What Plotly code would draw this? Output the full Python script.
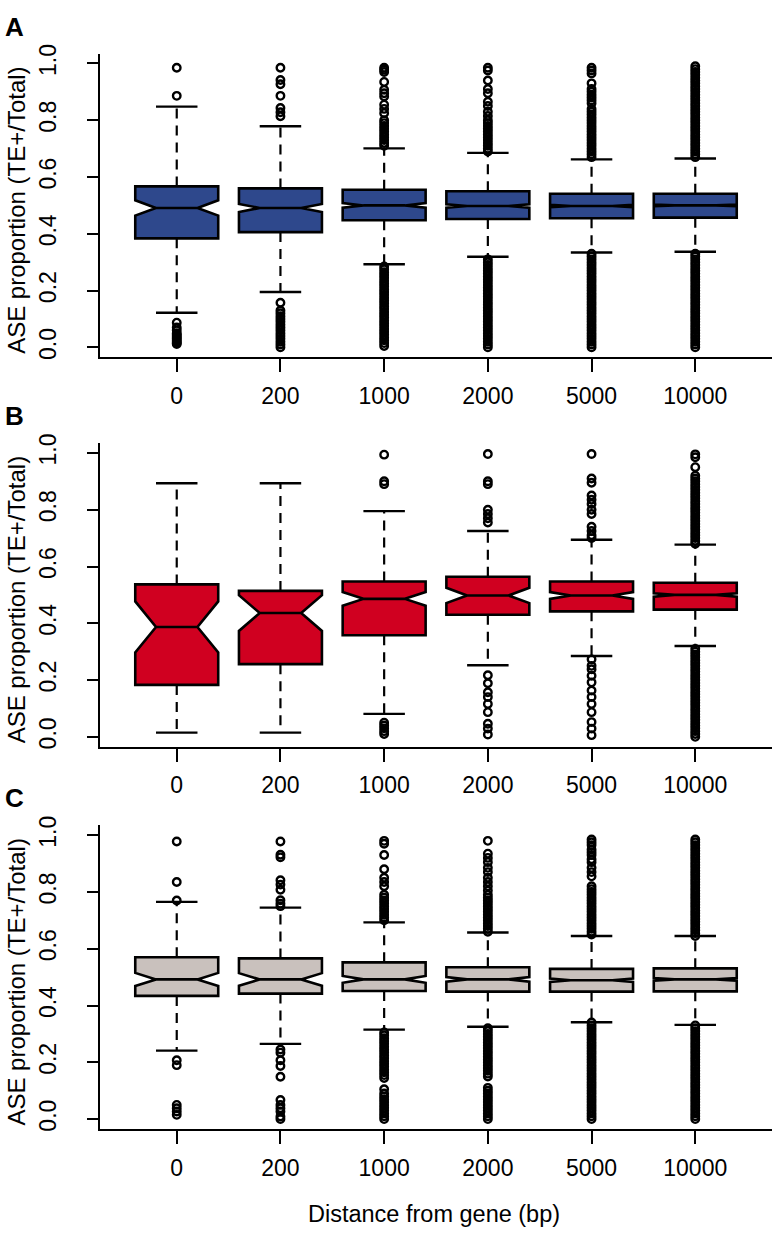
import plotly.graph_objects as go

# ---------------- data ----------------
categories = ["0", "200", "1000", "2000", "5000", "10000"]
positions = [1, 2, 3, 4, 5, 6]

# Panel A
a_q1 = [0.384, 0.406, 0.448, 0.452, 0.455, 0.457]
a_med = [0.491, 0.491, 0.500, 0.498, 0.498, 0.500]
a_q3 = [0.567, 0.560, 0.555, 0.550, 0.541, 0.541]
a_lo = [0.122, 0.195, 0.293, 0.319, 0.334, 0.337]
a_hi = [0.848, 0.779, 0.701, 0.685, 0.662, 0.665]
a_notch = [0.027, 0.014, 0.008, 0.006, 0.004, 0.003]
a_out = [
    [0.985, 0.886, 0.087, 0.07, 0.06, 0.05, 0.045, 0.04, 0.035, 0.03, 0.025, 0.02, 0.015, 0.012],
    [0.985, 0.942, 0.927, 0.886, 0.843, 0.828, 0.814,
     0.157, 0.13, 0.12, 0.11, 0.10, 0.09, 0.08, 0.07, 0.06, 0.05, 0.04, 0.03, 0.02, 0.01, 0.0],
    [0.985, 0.978, 0.97, 0.935, 0.907, 0.895, 0.884, 0.855, 0.84, 0.825,
     0.80, 0.79, 0.78, 0.77, 0.76, 0.75, 0.74, 0.73, 0.72, 0.71,
     0.285, 0.275, 0.265, 0.255, 0.245, 0.235, 0.225, 0.215, 0.205, 0.195, 0.185, 0.175, 0.165,
     0.155, 0.145, 0.135, 0.125, 0.115, 0.105, 0.095, 0.085, 0.075, 0.065, 0.055, 0.045, 0.035,
     0.025, 0.015, 0.005],
    [0.985, 0.975, 0.94, 0.91, 0.895, 0.865, 0.85, 0.83, 0.815,
     0.80, 0.79, 0.78, 0.77, 0.76, 0.75, 0.74, 0.73, 0.72, 0.71, 0.70, 0.69,
     0.31, 0.30, 0.29, 0.28, 0.27, 0.26, 0.25, 0.24, 0.23, 0.22, 0.21, 0.20, 0.19, 0.18, 0.17,
     0.16, 0.15, 0.14, 0.13, 0.12, 0.11, 0.10, 0.09, 0.08, 0.07, 0.06, 0.05, 0.04, 0.03, 0.02,
     0.01, 0.0],
    [0.985, 0.975, 0.965, 0.93, 0.91, 0.90, 0.89, 0.88, 0.87, 0.86,
     0.84, 0.83, 0.82, 0.81, 0.80, 0.79, 0.78, 0.77, 0.76, 0.75, 0.74, 0.73, 0.72, 0.71, 0.70,
     0.69, 0.68, 0.67,
     0.33, 0.32, 0.31, 0.30, 0.29, 0.28, 0.27, 0.26, 0.25, 0.24, 0.23, 0.22, 0.21, 0.20, 0.19,
     0.18, 0.17, 0.16, 0.15, 0.14, 0.13, 0.12, 0.11, 0.10, 0.09, 0.08, 0.07, 0.06, 0.05, 0.04,
     0.03, 0.02, 0.01, 0.0],
    [0.99, 0.98, 0.97, 0.96, 0.95, 0.94, 0.93, 0.92, 0.91, 0.90, 0.89, 0.88, 0.87, 0.86, 0.85,
     0.84, 0.83, 0.82, 0.81, 0.80, 0.79, 0.78, 0.77, 0.76, 0.75, 0.74, 0.73, 0.72, 0.71, 0.70,
     0.69, 0.68, 0.67,
     0.33, 0.32, 0.31, 0.30, 0.29, 0.28, 0.27, 0.26, 0.25, 0.24, 0.23, 0.22, 0.21, 0.20, 0.19,
     0.18, 0.17, 0.16, 0.15, 0.14, 0.13, 0.12, 0.11, 0.10, 0.09, 0.08, 0.07, 0.06, 0.05, 0.04,
     0.03, 0.02, 0.01, 0.0],
]

# Panel B
b_q1 = [0.183, 0.256, 0.358, 0.430, 0.442, 0.448]
b_med = [0.387, 0.436, 0.486, 0.498, 0.498, 0.500]
b_q3 = [0.537, 0.514, 0.547, 0.564, 0.547, 0.543]
b_lo = [0.015, 0.015, 0.081, 0.252, 0.285, 0.320]
b_hi = [0.893, 0.893, 0.795, 0.725, 0.694, 0.677]
b_notch = [0.090, 0.063, 0.024, 0.027, 0.012, 0.006]
b_out = [
    [],
    [],
    [0.994, 0.90, 0.89, 0.05, 0.04, 0.03, 0.02, 0.01],
    [0.996, 0.90, 0.89, 0.80, 0.785, 0.77, 0.755,
     0.217, 0.189, 0.157, 0.14, 0.116, 0.087, 0.046, 0.029, 0.008],
    [0.996, 0.91, 0.895, 0.85, 0.835, 0.82, 0.80, 0.785, 0.74, 0.725, 0.71, 0.70,
     0.273, 0.25, 0.238, 0.215, 0.192, 0.163, 0.14, 0.116, 0.087, 0.052, 0.029, 0.006],
    [0.995, 0.985, 0.95, 0.92, 0.91, 0.90, 0.89, 0.88, 0.87, 0.86, 0.85, 0.84, 0.83, 0.82,
     0.81, 0.80, 0.79, 0.78, 0.77, 0.76, 0.75, 0.74, 0.73, 0.72, 0.71, 0.70, 0.69, 0.68,
     0.31, 0.30, 0.29, 0.28, 0.27, 0.26, 0.25, 0.24, 0.23, 0.22, 0.21, 0.20, 0.19, 0.18, 0.17,
     0.16, 0.15, 0.14, 0.13, 0.12, 0.11, 0.10, 0.09, 0.08, 0.07, 0.06, 0.05, 0.04, 0.03, 0.02,
     0.01, 0.0],
]

# Panel C
c_q1 = [0.434, 0.442, 0.451, 0.449, 0.449, 0.450]
c_med = [0.492, 0.492, 0.492, 0.492, 0.489, 0.492]
c_q3 = [0.570, 0.566, 0.552, 0.535, 0.529, 0.531]
c_lo = [0.241, 0.265, 0.315, 0.325, 0.341, 0.332]
c_hi = [0.765, 0.745, 0.693, 0.657, 0.645, 0.645]
c_notch = [0.023, 0.022, 0.012, 0.008, 0.006, 0.005]
c_out = [
    [0.978, 0.835, 0.77, 0.207, 0.19, 0.05, 0.038, 0.027, 0.015],
    [0.978, 0.931, 0.922, 0.841, 0.826, 0.808, 0.771, 0.759, 0.75,
     0.245, 0.234, 0.207, 0.187, 0.149, 0.067, 0.05, 0.038, 0.027, 0.009, 0.0],
    [0.98, 0.97, 0.93, 0.88, 0.85, 0.835, 0.82,
     0.79, 0.78, 0.77, 0.76, 0.75, 0.74, 0.73, 0.72, 0.71, 0.70,
     0.305, 0.295, 0.285, 0.275, 0.265, 0.255, 0.245, 0.235, 0.225, 0.215, 0.205, 0.195, 0.185,
     0.175, 0.165, 0.155, 0.145,
     0.105, 0.09, 0.08, 0.07, 0.06, 0.05, 0.04, 0.03, 0.02, 0.01, 0.0],
    [0.98, 0.935, 0.92, 0.905, 0.885, 0.87, 0.85, 0.835, 0.82, 0.805,
     0.79, 0.78, 0.77, 0.76, 0.75, 0.74, 0.73, 0.72, 0.71, 0.70, 0.69, 0.68, 0.67, 0.66,
     0.32, 0.31, 0.30, 0.29, 0.28, 0.27, 0.26, 0.25, 0.24, 0.23, 0.22, 0.21, 0.20, 0.19, 0.18,
     0.17, 0.16, 0.15,
     0.11, 0.10, 0.09, 0.08, 0.07, 0.06, 0.05, 0.04, 0.03, 0.02, 0.01, 0.0],
    [0.985, 0.975, 0.965, 0.95, 0.94, 0.93, 0.915, 0.905, 0.885, 0.87, 0.855,
     0.82, 0.81, 0.80, 0.79, 0.78, 0.77, 0.76, 0.75, 0.74, 0.73, 0.72, 0.71, 0.70, 0.69, 0.68,
     0.67, 0.66, 0.65,
     0.34, 0.33, 0.32, 0.31, 0.30, 0.29, 0.28, 0.27, 0.26, 0.25, 0.24, 0.23, 0.22, 0.21, 0.20,
     0.19, 0.18, 0.17, 0.16, 0.15, 0.14, 0.13, 0.12, 0.11, 0.10, 0.09, 0.08, 0.07, 0.06, 0.05,
     0.04, 0.03, 0.02, 0.01, 0.0],
    [0.985, 0.975, 0.965, 0.955, 0.945, 0.935, 0.925, 0.915, 0.905, 0.895, 0.885, 0.875, 0.865,
     0.855, 0.845, 0.835, 0.825, 0.815, 0.805, 0.795, 0.785, 0.775, 0.765, 0.755, 0.745, 0.735,
     0.725, 0.715, 0.705, 0.695, 0.685, 0.675, 0.665, 0.655, 0.645,
     0.33, 0.32, 0.31, 0.30, 0.29, 0.28, 0.27, 0.26, 0.25, 0.24, 0.23, 0.22, 0.21, 0.20, 0.19,
     0.18, 0.17, 0.16, 0.15, 0.14, 0.13, 0.12, 0.11, 0.10, 0.09, 0.08, 0.07, 0.06, 0.05, 0.04,
     0.03, 0.02, 0.01, 0.0],
]

y_tick_vals = [0.0, 0.2, 0.4, 0.6, 0.8, 1.0]
y_tick_text = ["0.0", "0.2", "0.4", "0.6", "0.8", "1.0"]
panel_letters = ["A", "B", "C"]
y_title = "ASE proportion (TE+/Total)"
x_title = "Distance from gene (bp)"

# ---------------- layout / style ----------------
W, H = 776, 1233
FONT = "Liberation Sans, Arial, Helvetica, sans-serif"
FS = 23
fills = ["rgb(46,72,140)", "rgb(208,0,32)", "rgb(201,193,189)"]
zero_px = [341.7, 735.0, 1121.0]   # pixel row of value 0 in each panel
unit_px = 286.7                     # pixels per 1.0
pad_px = 10.0
x_left_px, x_right_px = 100.0, 772.0
box_w = 0.8
cap_half = 0.2

panels = [
    (a_q1, a_med, a_q3, a_lo, a_hi, a_notch, a_out),
    (b_q1, b_med, b_q3, b_lo, b_hi, b_notch, b_out),
    (c_q1, c_med, c_q3, c_lo, c_hi, c_notch, c_out),
]

fig = go.Figure()
layout = dict(
    width=W, height=H, margin=dict(l=0, r=0, t=0, b=0),
    paper_bgcolor="white", plot_bgcolor="white", showlegend=False,
    font=dict(family=FONT, size=FS, color="black"),
)
annotations = []
yr = [-pad_px / unit_px, 1 + pad_px / unit_px]

for i, (q1, med, q3, lo, hi, notch, out) in enumerate(panels):
    n = i + 1
    xa = "x" if n == 1 else f"x{n}"
    ya = "y" if n == 1 else f"y{n}"
    # dashed whiskers
    wx, wy = [], []
    for p, a, b, c, d in zip(positions, q1, lo, q3, hi):
        wx += [p, p, None, p, p, None]
        wy += [a, b, None, c, d, None]
    fig.add_trace(go.Scatter(x=wx, y=wy, mode="lines", xaxis=xa, yaxis=ya,
                             line=dict(color="black", width=2.2, dash="10px,7px"),
                             hoverinfo="skip"))
    # notched boxes
    fig.add_trace(go.Box(x=positions, q1=q1, median=med, q3=q3,
                         lowerfence=q1, upperfence=q3, notchspan=notch,
                         notched=True, notchwidth=0.25, width=box_w,
                         whiskerwidth=0, boxpoints=False,
                         fillcolor=fills[i], line=dict(color="black", width=2.6),
                         xaxis=xa, yaxis=ya))
    # staples
    cx, cy = [], []
    for p, b, d in zip(positions, lo, hi):
        cx += [p - cap_half, p + cap_half, None, p - cap_half, p + cap_half, None]
        cy += [b, b, None, d, d, None]
    fig.add_trace(go.Scatter(x=cx, y=cy, mode="lines", xaxis=xa, yaxis=ya,
                             line=dict(color="black", width=2.4), hoverinfo="skip"))
    # outliers
    ox, oy = [], []
    for p, vals in zip(positions, out):
        ox += [p] * len(vals)
        oy += vals
    fig.add_trace(go.Scatter(x=ox, y=oy, mode="markers", xaxis=xa, yaxis=ya,
                             marker=dict(symbol="circle-open", size=7.5, color="black",
                                         line=dict(width=2.4, color="black"))))

    bottom_px = zero_px[i] + pad_px
    top_px = zero_px[i] - unit_px - pad_px
    ydom = [1 - bottom_px / H, 1 - top_px / H]
    xkey = "xaxis" if n == 1 else f"xaxis{n}"
    ykey = "yaxis" if n == 1 else f"yaxis{n}"
    layout[xkey] = dict(
        domain=[x_left_px / W, x_right_px / W], anchor=ya, range=[0.26, 6.74],
        tickmode="array", tickvals=positions, ticktext=categories,
        ticks="outside", ticklen=13, tickwidth=2, tickcolor="black",
        showline=True, linewidth=2, linecolor="black",
        showgrid=False, zeroline=False, fixedrange=True,
        tickfont=dict(family=FONT, size=FS, color="black"),
        ticklabelstandoff=4,
    )
    layout[ykey] = dict(
        domain=ydom, anchor=xa, range=yr,
        tickmode="array", tickvals=y_tick_vals, ticktext=y_tick_text,
        ticks="outside", ticklen=11, tickwidth=2, tickcolor="black",
        tickangle=-90,
        showline=True, linewidth=2, linecolor="black",
        showgrid=False, zeroline=False, fixedrange=True,
        tickfont=dict(family=FONT, size=FS, color="black"),
        ticklabelstandoff=22,
    )
    # panel letter
    annotations.append(dict(text=f"<b>{panel_letters[i]}</b>", xref="paper", yref="paper",
                            x=14.5 / W, y=1 - (zero_px[i] - 324) / H,
                            xanchor="center", yanchor="middle", showarrow=False,
                            font=dict(family=FONT, size=26, color="black")))
    # y title
    mid_px = (bottom_px + top_px) / 2 + 5
    annotations.append(dict(text=y_title, xref="paper", yref="paper",
                            x=16.5 / W, y=1 - mid_px / H, textangle=-90,
                            xanchor="center", yanchor="middle", showarrow=False,
                            font=dict(family=FONT, size=FS + 1, color="black")))

annotations.append(dict(text=x_title, xref="paper", yref="paper",
                        x=434 / W, y=1 - 1217 / H, xanchor="center", yanchor="middle",
                        showarrow=False, font=dict(family=FONT, size=FS + 0.5, color="black")))
layout["annotations"] = annotations
fig.update_layout(**layout)
fig.write_html("out.html", config={"displayModeBar": False},
               post_script="document.body.style.margin='0px';")
